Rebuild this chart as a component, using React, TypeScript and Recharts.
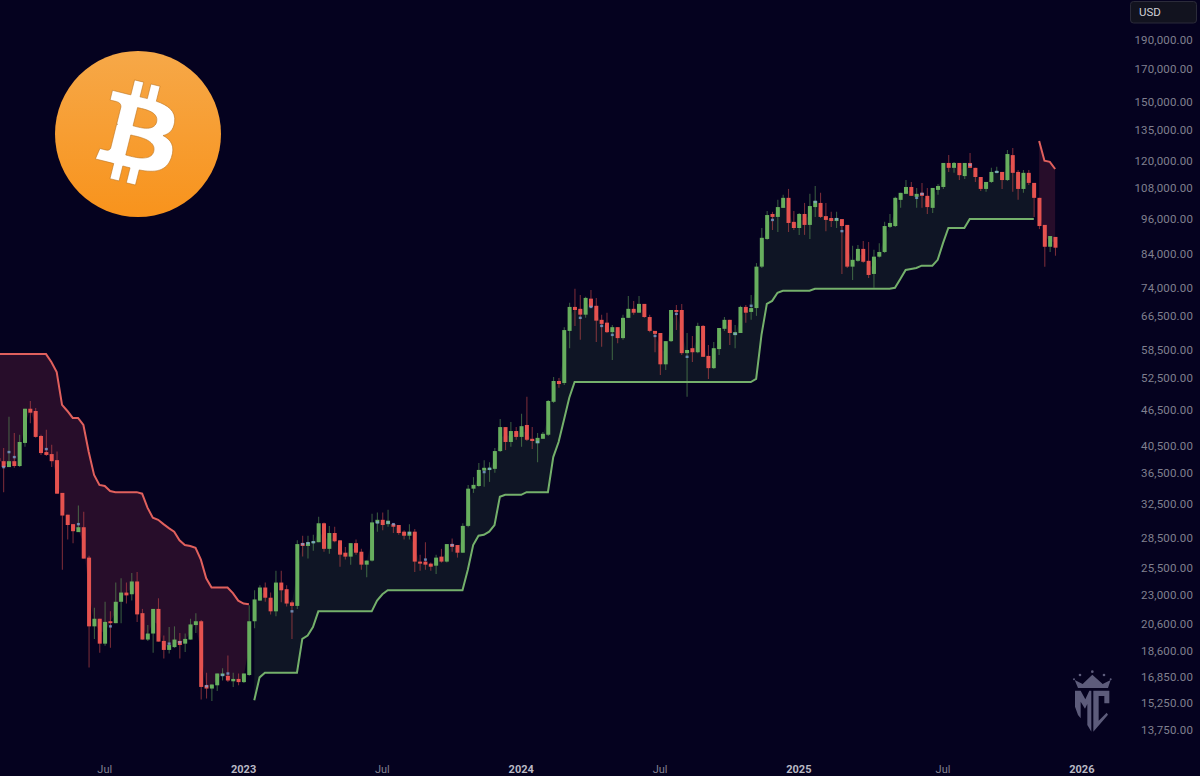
import React from "react";
import { Area, Bar, ComposedChart, Line, XAxis, YAxis } from "recharts";

// weekly candles, the first one is cut off by the left edge
const opens = [
  38700,
  38250, 37400, 38250, 37550, 41000, 46700, 46300, 42100, 39600, 39300,
  38400, 33900, 31200, 30100, 29200, 29750, 26500, 20400, 21000, 19100,
  20800, 20650, 22400, 23200, 23050, 24200, 21450, 19400, 19850, 21800,
  19300, 18650, 18850, 19300, 19100, 19400, 20500, 20800, 16300, 16100,
  16300, 16900, 16900, 16550, 16700, 16500, 16950, 20800, 22500, 23650,
  22750, 21600, 24100, 23500, 22350, 22050, 28000, 27700, 28000, 28100,
  30200, 27400, 29100, 28300, 27000, 26600, 28000, 27100, 25800, 26200,
  30200, 30600, 30100, 30100, 30000, 29250, 28800, 29250, 26100, 26100,
  25900, 25700, 26600, 26100, 27900, 27800, 27000, 29900, 34450, 34800,
  36900, 37000, 37150, 39750, 43550, 41150, 42900, 41950, 43900, 41650,
  40950, 41650, 42300, 47950, 51900, 51500, 62800, 68800, 68300, 66800,
  71000, 69100, 65500, 64800, 62500, 63700, 61100, 66000, 68300, 67300,
  69600, 66200, 62800, 62300, 55300, 60400, 68000, 68000, 57700, 58800,
  57900, 64000, 57100, 54500, 58600, 63300, 65500, 61800, 62300, 68800,
  67500, 68500, 80200, 89100, 98000, 96900, 100300, 104200, 95100, 92900,
  98000, 94000, 100600, 102200, 97200, 96500, 95400, 96100, 94000, 80200,
  82000, 85800, 82000, 78000, 83300, 84800, 93300, 93600, 103400, 105800,
  108600, 104600, 106200, 105000, 100300, 107400, 108600, 119000, 116800, 119000,
  113200, 119000, 116800, 112800, 107800, 110700, 114600, 115000, 111500, 122600,
  115000, 107800, 114600, 110300, 104200, 94000, 86500, 89800,
];

const closes = [
  38250,
  37400, 38250, 37550, 41150, 46700, 46000, 41950, 39450, 39170, 38250,
  33800, 31100, 30000, 29300, 29750, 26400, 20400, 21000, 19100, 20750,
  20650, 22400, 23200, 22950, 24200, 21350, 19400, 19850, 21800, 19250,
  18650, 19000, 19400, 19000, 19450, 20550, 20800, 16200, 16100, 16350,
  17050, 17050, 16600, 16700, 16500, 17050, 20800, 22600, 23650, 22750,
  21600, 24100, 23400, 22250, 22050, 27900, 27700, 28100, 28200, 30200,
  27400, 29100, 28200, 26800, 26600, 28000, 27000, 25800, 26200, 30300,
  30600, 30000, 30500, 29800, 29100, 28800, 29250, 26100, 25900, 25800,
  25600, 26500, 26100, 27900, 27600, 27000, 29900, 34450, 34950, 37000,
  37300, 37300, 39750, 43550, 41150, 42900, 41950, 43700, 41500, 41300,
  41800, 42450, 48100, 51900, 51300, 63000, 68800, 68000, 66800, 71200,
  68800, 65300, 64500, 62500, 63700, 61100, 66000, 68300, 67300, 69600,
  66200, 62800, 62100, 55300, 60400, 68000, 67500, 57700, 58400, 57900,
  64000, 56900, 54500, 58800, 63500, 65500, 62300, 62500, 68800, 67300,
  68500, 80200, 89500, 97600, 96900, 100600, 104200, 94700, 92900, 98000,
  94000, 101000, 103000, 96900, 95800, 95400, 96500, 93600, 80200, 82300,
  85800, 81700, 77700, 83300, 84800, 93600, 94700, 104200, 106200, 108600,
  105000, 105800, 105000, 100600, 108200, 109000, 119000, 116800, 119000, 113600,
  119000, 116800, 112800, 107800, 110700, 115000, 115400, 111500, 123100, 114600,
  107800, 114600, 110300, 104200, 93600, 86500, 90100, 86200,
];

const highs = [
  40000,
  40200, 45300, 42600, 42300, 46700, 48100, 46850, 42300, 43100, 40700,
  39700, 33900, 31200, 30100, 32300, 31550, 26700, 21900, 21000, 22400,
  21600, 24100, 24500, 24100, 25000, 25100, 21800, 20500, 21800, 22700,
  19700, 20350, 20400, 19900, 19850, 21000, 21450, 20900, 17100, 16350,
  17050, 17400, 18250, 17100, 17050, 17050, 22100, 23400, 23850, 24100,
  23200, 25200, 25200, 23850, 22500, 28300, 28800, 28800, 28900, 30950,
  30300, 29900, 29800, 28300, 27600, 28000, 28400, 27400, 26200, 31300,
  31450, 31450, 31800, 30200, 30000, 29400, 30100, 29550, 26800, 28100,
  26000, 26800, 27400, 27900, 28500, 27800, 30200, 34950, 36000, 38000,
  38400, 38100, 40200, 44900, 43550, 44400, 43550, 45800, 48900, 43550,
  42600, 42750, 48300, 52700, 52500, 63700, 69900, 73700, 72000, 71500,
  73400, 71200, 66800, 67300, 64200, 63700, 66800, 71700, 70400, 71700,
  69600, 66800, 62800, 62300, 60400, 68000, 69300, 69600, 62300, 61600,
  64800, 64200, 59500, 60200, 63500, 66200, 65500, 64200, 69100, 69300,
  72000, 81300, 92900, 99100, 98800, 103400, 105400, 107800, 99100, 98400,
  102200, 105800, 109000, 106200, 102200, 98800, 98800, 96100, 94000, 86800,
  87100, 88400, 88100, 85500, 87700, 95100, 98000, 104600, 106200, 111500,
  110700, 108200, 110300, 108200, 108200, 109800, 119000, 122600, 119400, 119000,
  119000, 123600, 116800, 112800, 110700, 116800, 117300, 115000, 125000, 126000,
  115900, 115900, 115900, 110300, 104200, 94000, 90100, 89800,
];

const lows = [
  34500,
  34000, 37400, 37300, 37400, 40400, 44200, 41800, 39170, 39000, 37400,
  33800, 25300, 28400, 28000, 29200, 26400, 17450, 19450, 18450, 18950,
  18800, 20650, 20650, 22250, 22500, 20750, 19400, 19300, 18450, 19250,
  18050, 18400, 18800, 18050, 18500, 19400, 19900, 15450, 15500, 15350,
  15950, 16600, 16500, 16200, 16300, 16450, 16900, 20250, 22500, 22400,
  21350, 21200, 22350, 22000, 19450, 21800, 26600, 26400, 27200, 28100,
  27100, 26900, 28100, 25600, 26300, 25800, 26800, 25300, 24600, 26100,
  29250, 29400, 29800, 29100, 28900, 28400, 28400, 25100, 25200, 25300,
  25200, 24900, 26000, 26000, 27100, 26500, 27000, 29750, 33900, 34700,
  34700, 35350, 36600, 39600, 39900, 40400, 41500, 40400, 41300, 40050,
  38100, 41650, 42100, 47750, 50600, 51100, 58800, 64000, 60700, 66000,
  68500, 60200, 59100, 62300, 56200, 59900, 60700, 66000, 66800, 67300,
  66000, 62500, 57900, 53100, 54100, 60200, 63000, 57300, 48900, 55800,
  57700, 56900, 52300, 54300, 57300, 62800, 59500, 58800, 62300, 64800,
  65500, 66500, 79800, 88800, 92200, 91500, 100300, 91500, 92200, 90500,
  90500, 89100, 96900, 96500, 91800, 93300, 92900, 78000, 79800, 76200,
  81700, 81400, 76800, 74000, 83000, 84500, 92900, 93300, 100300, 105800,
  105000, 100300, 100300, 98000, 98400, 105400, 107800, 115000, 114600, 111500,
  111900, 116800, 110700, 107000, 106600, 110300, 114600, 107800, 111100, 106600,
  103400, 106200, 109400, 96900, 92500, 80200, 84800, 83600,
];

// supertrend, the first candles then the last four
const downTrendFirst = [
  57500,
  57500, 57500, 57500, 57500, 57500, 57500, 57500, 57500, 57500, 55800,
  53700, 47400, 46300, 45100, 45100, 43900, 39600, 36300, 34950, 34800,
  34150, 34000, 34000, 34000, 34000, 34000, 33800, 32050, 30850, 30600,
  30100, 29650, 29250, 28300, 27800, 27700, 27500, 26300, 24500, 23650,
  23650, 23650, 23650, 23150, 22500, 22250, 22200,
];
const downTrendLast = [129400, 120000, 119500, 116300];

// supertrend in between
const upTrendValues = [
  15400, 16800, 17100, 17100, 17100, 17100, 17100, 17100, 17100, 19450,
  19700, 20350, 21600, 21600, 21600, 21600, 21600, 21600, 21600, 21600,
  21600, 21600, 21600, 22500, 23050, 23400, 23400, 23400, 23400, 23400,
  23400, 23400, 23400, 23400, 23400, 23400, 23400, 23400, 23400, 23400,
  25300, 27800, 28800, 28900, 29250, 30000, 33400, 33650, 33650, 33650,
  33650, 34000, 34000, 34000, 34000, 34000, 38850, 41150, 44750, 48700,
  51700, 51700, 51700, 51700, 51700, 51700, 51700, 51700, 51700, 51700,
  51700, 51700, 51700, 51700, 51700, 51700, 51700, 51700, 51700, 51700,
  51700, 51700, 51700, 51700, 51700, 51700, 51700, 51700, 51700, 51700,
  51700, 51700, 51700, 51700, 52300, 61850, 69600, 70400, 72600, 73150,
  73150, 73150, 73150, 73150, 73150, 73700, 73700, 73700, 73700, 73700,
  73700, 73700, 73700, 73700, 73700, 73700, 73700, 73700, 73700, 73700,
  74000, 76500, 79200, 79500, 79800, 80500, 80500, 80500, 82300, 87700,
  92900, 92900, 92900, 92900, 96100, 96100, 96100, 96100, 96100, 96100,
  96100, 96100, 96100, 96100, 96100, 96100, 96100,
];

const dojiIndex = [
  0, 1, 2, 8, 14, 20, 31, 33, 38, 41, 42, 54, 56, 57, 58, 70, 72, 73, 76, 79, 84,
  90, 91, 100, 108, 110, 112, 114, 122, 126, 128, 137, 140, 144, 152, 156, 157, 171, 172, 181, 186,
];
const dojiPrice = [
  37400, 39600, 38850, 40050, 30100, 20400, 19100, 19200, 16250, 16950, 17050, 21600, 27900, 28000, 28100,
  30300, 30300, 30100, 29100, 26300, 27800, 36700, 37150, 41150, 66000, 68800, 64000, 61850, 61600, 67000,
  56900, 62100, 69100, 95800, 102600, 96100, 91800, 104200, 105800, 118100, 115000,
];

const priceTicks = [
  190000, 170000, 150000, 135000, 120000, 108000, 96000, 84000, 74000, 66500, 58500, 52500,
  46500, 40500, 36500, 32500, 28500, 25500, 23000, 20600, 18600, 16850, 15250, 13750,
];
const timeTicks = [19, 45, 71, 97, 123, 149, 176, 202];
const timeLabels = ["Jul", "2023", "Jul", "2024", "Jul", "2025", "Jul", "2026"];

const UP = "#67ae5e";
const DOWN = "#e5524f";
const BG = "#05021f";

const downTrend = [...downTrendFirst, ...new Array(147).fill(null), ...downTrendLast];
const upTrend = [...new Array(48).fill(null), ...upTrendValues, ...new Array(4).fill(null)];

const rows = opens.map((open, n) => {
  const i = n - 1;
  const mid = (open + closes[n]) / 2;
  const markAt = dojiIndex.indexOf(i);
  return {
    i,
    open,
    close: closes[n],
    high: highs[n],
    low: lows[n],
    range: [lows[n], highs[n]],
    down: downTrend[n],
    up: upTrend[n],
    downFill: downTrend[n] == null ? null : [mid, downTrend[n]],
    upFill: upTrend[n] == null ? null : [upTrend[n], mid],
    mark: markAt >= 0 ? dojiPrice[markAt] : null,
  };
});

function Candle(props: any) {
  const { x, y, width, height, payload } = props;
  const span = Math.log(payload.high / payload.low) || 1;
  const yOf = (v: number) => y + (height * Math.log(payload.high / v)) / span;
  const color = payload.close >= payload.open ? UP : DOWN;
  const top = yOf(Math.max(payload.open, payload.close));
  const bottom = yOf(Math.min(payload.open, payload.close));
  const cx = x + width / 2;
  return (
    <g>
      <line x1={cx} x2={cx} y1={y} y2={y + height} stroke={color} strokeOpacity={0.5} strokeWidth={1.1} />
      <rect x={x} y={top} width={width} height={Math.max(bottom - top, 1.6)} fill={color} />
      {payload.mark != null && (
        <rect x={cx - 1.5} y={yOf(payload.mark) - 1.2} width={3} height={2.4} fill="#7da7d6" fillOpacity={0.75} />
      )}
    </g>
  );
}

function PriceTick(props: any) {
  return (
    <text x={1193} y={props.y + 4} textAnchor="end" fontFamily="Roboto" fontSize={11.5} fill="#80808f" letterSpacing={0.15}>
      {props.payload.value.toLocaleString("en-US", { minimumFractionDigits: 2 })}
    </text>
  );
}

function TimeTick(props: any) {
  const label = timeLabels[timeTicks.indexOf(props.payload.value)];
  const isYear = label !== "Jul";
  return (
    <text
      x={props.x}
      y={773}
      textAnchor="middle"
      fontFamily="Roboto"
      fontSize={11}
      fontWeight={isYear ? 700 : 400}
      fill={isYear ? "#b9b9c4" : "#80808f"}
    >
      {label}
    </text>
  );
}

function Overlay() {
  return (
    <svg width={1200} height={776} style={{ position: "absolute", left: 0, top: 0, pointerEvents: "none" }}>
      <defs>
        <linearGradient id="coin" x1="0" y1="0" x2="0" y2="1">
          <stop offset="0" stopColor="#f6a848" />
          <stop offset="1" stopColor="#f8931c" />
        </linearGradient>
      </defs>
      <circle cx={138} cy={134} r={83} fill="url(#coin)" />
      <g transform="translate(138 134) scale(2.594) translate(-32 -32)">
        <path
          fill="#fff"
          stroke="#b9701c"
          strokeWidth={0.22}
          d="M46.11 27.441c.636-4.258-2.606-6.547-7.039-8.074l1.438-5.768-3.512-.875-1.4 5.616c-.922-.23-1.87-.447-2.812-.662l1.41-5.653-3.509-.875-1.439 5.766c-.764-.174-1.514-.346-2.242-.527l.004-.018-4.842-1.209-.934 3.75s2.605.597 2.55.634c1.422.355 1.68 1.296 1.636 2.042l-1.638 6.571c.098.025.225.061.365.117l-.37-.092-2.297 9.205c-.174.432-.615 1.08-1.609.834.035.051-2.552-.637-2.552-.637l-1.743 4.02 4.57 1.139c.85.213 1.683.436 2.502.646l-1.453 5.835 3.507.875 1.44-5.772c.957.26 1.887.5 2.797.726L27.504 50.8l3.511.875 1.453-5.823c5.987 1.133 10.49.676 12.383-4.738 1.527-4.36-.075-6.875-3.225-8.516 2.294-.531 4.022-2.04 4.483-5.157zM38.087 38.69c-1.086 4.36-8.426 2.004-10.807 1.412l1.928-7.729c2.38.594 10.011 1.77 8.88 6.317zm1.085-11.312c-.99 3.966-7.1 1.951-9.083 1.457l1.748-7.01c1.983.494 8.367 1.416 7.335 5.553z"
        />
      </g>
      <rect x={1130.5} y={1.5} width={66} height={21.5} rx={3} fill="#12131f" stroke="#2b2b3a" />
      <text x={1139} y={16} fontFamily="Roboto" fontSize={11.5} fill="#cfcfd6">USD</text>
      {/* watermark, drawn in 3x units */}
      <g transform="translate(1050 660) scale(0.3333)" fill="#5d5c7b">
        <polygon points="75,92 92,92 106,118 118,92 124,92 124,215 112,195 112,132 105,146 92,125 92,175 84,165 75,140" />
        <polygon points="130,92 178,92 178,130 163,130 163,108 146,108 146,182 170,158 174,164 130,215" />
        <polygon points="84,84 174,84 182,60 158,72 127,44 98,72 74,60" />
        <circle cx={90} cy={45} r={4} />
        <circle cx={127} cy={35} r={4} />
        <circle cx={162} cy={45} r={4} />
        <circle cx={72} cy={58} r={3} />
        <circle cx={182} cy={58} r={3} />
      </g>
    </svg>
  );
}

export default function App() {
  return (
    <div style={{ position: "absolute", left: 0, top: 0, width: 1200, height: 776, background: BG, overflow: "hidden" }}>
      <ComposedChart width={1200} height={776} data={rows} margin={{ top: 0, right: 0, bottom: 0, left: 0 }}>
        <XAxis
          dataKey="i"
          type="number"
          domain={[-0.62, 205.4]}
          allowDataOverflow
          ticks={timeTicks}
          interval={0}
          height={26}
          axisLine={false}
          tickLine={false}
          tick={<TimeTick />}
        />
        <YAxis
          type="number"
          scale="log"
          orientation="right"
          domain={[12743, 221240]}
          allowDataOverflow
          ticks={priceTicks}
          interval={0}
          width={100}
          axisLine={false}
          tickLine={false}
          tick={<PriceTick />}
        />
        <Area dataKey="downFill" fill="#270d2a" fillOpacity={1} stroke="none" isAnimationActive={false} dot={false} activeDot={false} />
        <Area dataKey="upFill" fill="#0f1525" fillOpacity={1} stroke="none" isAnimationActive={false} dot={false} activeDot={false} />
        <Line dataKey="down" stroke="#e0605d" strokeWidth={2} dot={false} activeDot={false} isAnimationActive={false} />
        <Line dataKey="up" stroke="#74b06b" strokeWidth={2} dot={false} activeDot={false} isAnimationActive={false} />
        <Bar dataKey="range" barSize={4} shape={<Candle />} isAnimationActive={false} />
      </ComposedChart>
      <Overlay />
    </div>
  );
}
